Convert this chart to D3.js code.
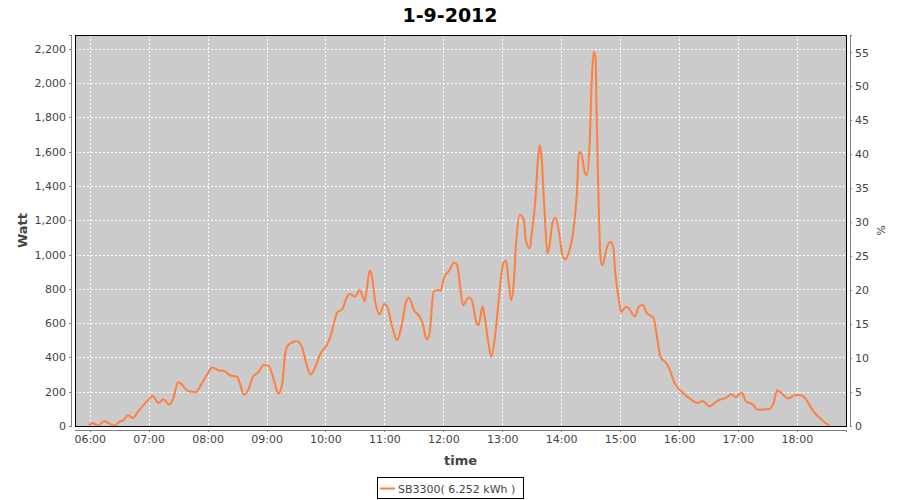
<!DOCTYPE html>
<html lang="en">
  <head>
    <meta charset="UTF-8">
    <title>1-9-2012</title>
    <style>
      body { margin: 0; background: #fff; }
      text { font-family: "DejaVu Sans", sans-serif; }
      .axis path, .axis line { stroke: #808080; shape-rendering: crispEdges; }
      .axis text { fill: #444; font-size: 11px; }
      .grid line { stroke: #fff; stroke-dasharray: 2,2; shape-rendering: crispEdges; }
      .label { fill: #444; font-weight: bold; font-size: 13px; }
    </style>
    <script src="https://d3js.org/d3.v7.min.js"></script>
  </head>
  <body>
    <script>
      // SB3300 output
      const times = ["05:59","06:03","06:08","06:15","06:20","06:25","06:31","06:34","06:39","06:44",
        "06:49","06:54","07:00","07:04","07:10","07:15","07:21","07:25","07:30","07:35",
        "07:40","07:48","07:54","08:00","08:05","08:11","08:17","08:23","08:30","08:33",
        "08:37","08:42","08:46","08:52","08:57","09:02","09:05","09:09","09:12","09:16",
        "09:19","09:22","09:31","09:36","09:41","09:45","09:50","09:55","10:01","10:03",
        "10:05","10:09","10:12","10:17","10:22","10:25","10:30","10:35","10:40","10:42",
        "10:45","10:47","10:51","10:55","11:00","11:03","11:08","11:13","11:18","11:22",
        "11:25","11:30","11:36","11:39","11:43","11:46","11:50","11:55","11:57","12:01",
        "12:06","12:11","12:14","12:17","12:20","12:26","12:29","12:34","12:36","12:40",
        "12:42","12:46","12:49","12:53","12:57","13:01","13:04","13:06","13:09","13:12",
        "13:14","13:18","13:22","13:24","13:28","13:30","13:34","13:36","13:38","13:40",
        "13:43","13:46","13:48","13:51","13:54","13:58","14:01","14:04","14:08","14:12",
        "14:16","14:18","14:20","14:24","14:26","14:29","14:31","14:33","14:35","14:36",
        "14:38","14:40","14:42","14:46","14:50","14:53","14:55","14:59","15:01","15:06",
        "15:09","15:15","15:19","15:23","15:27","15:32","15:34","15:37","15:41","15:47",
        "15:50","15:55","16:02","16:11","16:19","16:24","16:31","16:40","16:48","16:53",
        "16:58","17:04","17:08","17:15","17:20","17:32","17:36","17:40","17:44","17:51",
        "17:58","18:04","18:10","18:16","18:23","18:30","18:33"];
      const watts = [3,18,2,27,14,2,27,33,62,47,
        82,117,154,175,134,156,126,160,257,234,
        204,198,247,306,341,325,321,296,286,247,
        183,218,286,315,356,352,315,237,189,247,
        422,471,494,461,354,300,350,423,470,491,
        520,608,663,680,754,769,754,793,728,793,
        905,880,715,651,711,695,579,501,598,724,
        748,676,637,598,505,540,783,793,787,870,
        905,954,939,822,705,750,734,598,588,699,
        640,480,404,540,770,948,963,870,734,855,
        1055,1232,1200,1084,1035,1122,1336,1530,1637,1569,
        1258,1006,1045,1181,1216,1122,1006,971,1016,1122,
        1355,1588,1598,1482,1462,1647,1996,2181,2151,1841,
        1336,980,937,1030,1074,1045,900,724,665,695,
        685,638,695,705,660,640,630,539,404,366,
        336,256,204,160,134,146,115,150,165,185,
        169,196,144,126,95,99,130,208,193,160,
        179,179,150,91,49,14,4];
      const wattTicks = d3.range(0, 2201, 200);
      const pctTicks = d3.range(0, 56, 5);
      const seriesName = "SB3300( 6.252 kWh )";
      const pctFull = 3960; // watt value for 100 %

      const width = 900, height = 500;
      const margin = { top: 35, right: 54, bottom: 74, left: 75 };
      const pw = width - margin.left - margin.right;
      const ph = height - margin.top - margin.bottom;

      const parseTime = d3.timeParse("%Y-%m-%d %H:%M");
      const data = times.map((t, i) => ({ t: parseTime("2012-09-01 " + t), w: watts[i] }));

      const x = d3.scaleTime()
        .domain([parseTime("2012-09-01 05:45"), parseTime("2012-09-01 18:50")])
        .range([0, pw]);
      const y = d3.scaleLinear().domain([0, 2280]).range([ph, 0]);
      const yPct = d3.scaleLinear().domain([0, 2280 / pctFull * 100]).range([ph, 0]);

      const svg = d3.select("body").append("svg")
        .attr("width", width).attr("height", height);

      svg.append("text")
        .attr("x", width / 2).attr("y", 22)
        .attr("text-anchor", "middle")
        .style("font-size", "19px").style("font-weight", "bold")
        .text("1-9-2012");

      const g = svg.append("g").attr("transform", `translate(${margin.left},${margin.top})`);

      g.append("rect").attr("width", pw).attr("height", ph).attr("fill", "#cbcbcb");

      const hourTicks = x.ticks(d3.timeHour.every(1));

      g.append("g").attr("class", "grid")
        .selectAll("line").data(wattTicks).join("line")
        .attr("x1", 0).attr("x2", pw)
        .attr("y1", d => Math.round(y(d)) + 0.5).attr("y2", d => Math.round(y(d)) + 0.5);
      g.append("g").attr("class", "grid")
        .selectAll("line").data(hourTicks).join("line")
        .attr("y1", 0).attr("y2", ph)
        .attr("x1", d => Math.round(x(d)) + 0.5).attr("x2", d => Math.round(x(d)) + 0.5);

      const line = d3.line().x(d => x(d.t)).y(d => y(d.w)).curve(d3.curveMonotoneX);
      g.append("path").datum(data)
        .attr("fill", "none").attr("stroke", "#ff7f3e").attr("stroke-width", 2)
        .attr("stroke-linejoin", "round")
        .attr("d", line);

      g.append("rect").attr("x", 0.5).attr("y", 0.5).attr("width", pw).attr("height", ph)
        .attr("fill", "none").attr("stroke", "#000");

      g.append("g").attr("class", "axis")
        .attr("transform", "translate(-4,0)")
        .call(d3.axisLeft(y).tickValues(wattTicks).tickSize(2).tickPadding(3).tickFormat(d3.format(",")));

      g.append("g").attr("class", "axis")
        .attr("transform", `translate(${pw + 4},0)`)
        .call(d3.axisRight(yPct).tickValues(pctTicks).tickSize(2).tickPadding(3));

      g.append("g").attr("class", "axis")
        .attr("transform", `translate(0,${ph + 4})`)
        .call(d3.axisBottom(x).ticks(d3.timeHour.every(1)).tickSize(2).tickPadding(3)
          .tickFormat(d3.timeFormat("%H:%M")));

      g.selectAll(".axis .domain").attr("d", function () {
        return d3.select(this).attr("d").replace(/M([^,]+),[^VH]*V/, "M$1,0V");
      });

      svg.append("text").attr("class", "label")
        .attr("transform", `translate(27,${margin.top + ph / 2}) rotate(-90)`)
        .attr("text-anchor", "middle")
        .text("Watt");

      svg.append("text")
        .attr("transform", `translate(877,${margin.top + ph / 2}) rotate(90)`)
        .attr("text-anchor", "middle")
        .style("font-size", "11px").style("fill", "#444")
        .text("%");

      svg.append("text").attr("class", "label")
        .attr("x", margin.left + pw / 2).attr("y", 465)
        .attr("text-anchor", "middle")
        .text("time");

      const legend = svg.append("g").attr("transform", "translate(377,477)");
      legend.append("rect").attr("x", 0.5).attr("y", 0.5).attr("width", 146).attr("height", 21)
        .attr("fill", "#fff").attr("stroke", "#000");
      legend.append("line").attr("x1", 3).attr("x2", 18).attr("y1", 11.5).attr("y2", 11.5)
        .attr("stroke", "#ff7f3e").attr("stroke-width", 2);
      legend.append("text").attr("x", 21).attr("y", 15.5)
        .style("font-size", "11px").style("fill", "#444")
        .text(seriesName);
    </script>
  </body>
</html>
